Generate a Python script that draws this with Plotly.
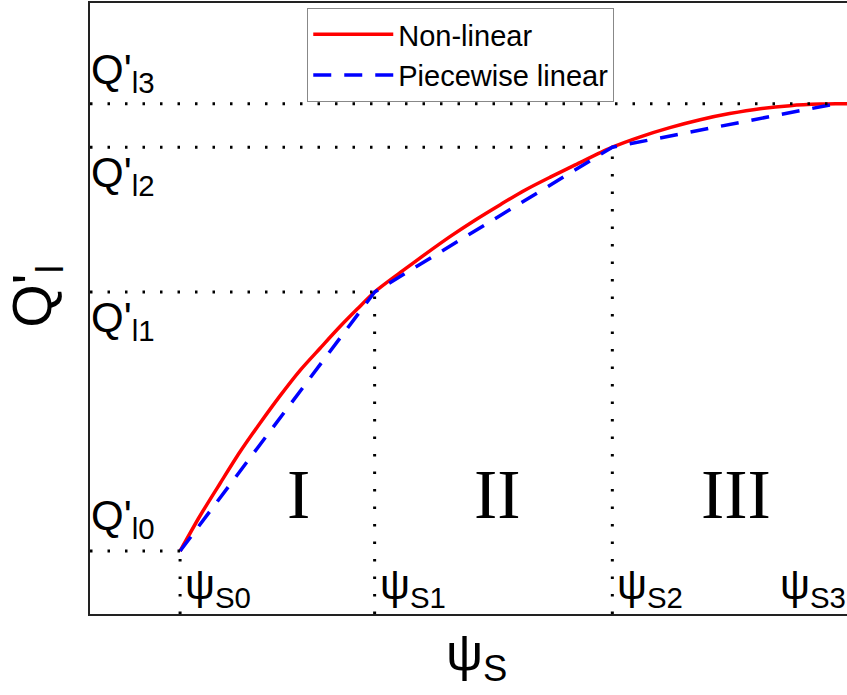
import plotly.graph_objects as go

# ---- data (arbitrary units, axes span 0..100) ----
psi_knots = [11.9, 37.6, 69.0, 98.5]
q_knots = [10.3, 52.7, 76.4, 83.5]
psi_labels = ["ψ<sub>S0</sub>", "ψ<sub>S1</sub>", "ψ<sub>S2</sub>", "ψ<sub>S3</sub>"]
q_labels = ["Q'<sub>l0</sub>", "Q'<sub>l1</sub>", "Q'<sub>l2</sub>", "Q'<sub>l3</sub>"]
region_labels = ["I", "II", "III"]
region_x = [27.5, 53.8, 85.3]
region_y = 19.5

nonlin_x = [11.9, 14.5, 17.2, 19.8, 22.5, 25.1, 27.7, 30.4, 33.0, 35.3, 37.6,
            41.0, 44.3, 47.6, 50.9, 54.2, 57.5, 60.8, 64.1, 69.0,
            72.7, 76.6, 80.6, 84.5, 88.5, 92.5, 96.4, 98.5, 100.0]
nonlin_y = [10.3, 16.0, 21.4, 26.5, 31.3, 35.7, 39.8, 43.5, 47.0, 49.9, 52.7,
            55.9, 58.9, 61.8, 64.5, 67.0, 69.4, 71.5, 73.5, 76.4,
            78.1, 79.6, 80.9, 81.9, 82.7, 83.2, 83.45, 83.5, 83.5]

FONT = "Liberation Sans, Arial, sans-serif"
SERIF = "Liberation Serif, Times New Roman, serif"

fig = go.Figure()

fig.add_trace(go.Scatter(x=nonlin_x, y=nonlin_y, mode="lines", name="Non-linear",
                         line=dict(color="#ff0000", width=3.5, shape="spline", smoothing=0.8)))
fig.add_trace(go.Scatter(x=psi_knots, y=q_knots, mode="lines", name="Piecewise linear",
                         line=dict(color="#0000ff", width=3.5, dash="18px,13px")))

dot = dict(color="black", width=3, dash="2.5px,15px")
for i in range(4):
    fig.add_trace(go.Scatter(x=[0, psi_knots[i]], y=[q_knots[i], q_knots[i]], mode="lines",
                             line=dot, showlegend=False, hoverinfo="skip"))
for i in range(3):
    fig.add_trace(go.Scatter(x=[psi_knots[i], psi_knots[i]], y=[0, q_knots[i]], mode="lines",
                             line=dot, showlegend=False, hoverinfo="skip"))

ann = []
# Q labels
q_pos = [("bottom", 4), ("top", 0), ("top", 0), ("bottom", 3)]
for i, lab in enumerate(q_labels):
    ya, ys = q_pos[i]
    ann.append(dict(x=0, y=q_knots[i], xref="x", yref="y", text=lab, showarrow=False,
                    xanchor="left", yanchor=ya, xshift=-1, yshift=ys,
                    font=dict(family=FONT, size=42, color="black")))
# psi labels
for i, lab in enumerate(psi_labels):
    if i < 3:
        ann.append(dict(x=psi_knots[i], y=0, xref="x", yref="y", text=lab, showarrow=False,
                        xanchor="left", yanchor="bottom", xshift=3, yshift=-2,
                        font=dict(family=FONT, size=42, color="black")))
    else:
        ann.append(dict(x=100, y=0, xref="x", yref="y", text=lab, showarrow=False,
                        xanchor="right", yanchor="bottom", xshift=1, yshift=-2,
                        font=dict(family=FONT, size=42, color="black")))
# region numerals
for lab, rx in zip(region_labels, region_x):
    ann.append(dict(x=rx, y=region_y, xref="x", yref="y", text=lab, showarrow=False,
                    xanchor="center", yanchor="middle",
                    font=dict(family=SERIF, size=70, color="black")))
# axis titles
ann.append(dict(x=-0.072, y=0.52, xref="paper", yref="paper", text="Q'<sub>l</sub>",
                showarrow=False, textangle=-90, xanchor="center", yanchor="middle",
                font=dict(family=FONT, size=56, color="black")))
ann.append(dict(x=0.51, y=-0.012, xref="paper", yref="paper", text="ψ<sub>S</sub>",
                showarrow=False, xanchor="center", yanchor="top",
                font=dict(family=FONT, size=52, color="black")))

fig.update_layout(
    width=847, height=695,
    margin=dict(l=90, r=0, t=3, b=81),
    paper_bgcolor="white", plot_bgcolor="white",
    showlegend=True,
    legend=dict(x=0.287, y=0.992, xanchor="left", yanchor="top",
                bgcolor="white", bordercolor="#888888", borderwidth=1,
                font=dict(family=FONT, size=29, color="black"),
                itemwidth=80, tracegroupgap=0),
    annotations=ann,
)
fig.update_xaxes(range=[0, 100], showgrid=False, zeroline=False, showticklabels=False,
                 ticks="", showline=True, linecolor="#222222", linewidth=2, mirror=True)
fig.update_yaxes(range=[0, 100], showgrid=False, zeroline=False, showticklabels=False,
                 ticks="", showline=True, linecolor="#222222", linewidth=2, mirror=False)

fig.write_html("out.html")
